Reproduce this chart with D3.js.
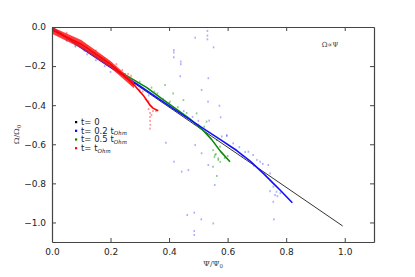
<!DOCTYPE html>
<html>
<head>
<meta charset="utf-8">
<script src="https://cdn.jsdelivr.net/npm/d3@7"></script>
<style>
  body { margin: 0; background: #fff; }
  svg { display: block; font-family: "DejaVu Sans", sans-serif; }
</style>
</head>
<body>
<div id="chart"></div>
<script>
// t = 0: linear relation
const blackLine = [[0, 0], [0.993, -1.018]];

// t = 0.2 t_Ohm
const blueLine = [[0, -0.004], [0.1, -0.106], [0.2, -0.206], [0.3, -0.302], [0.414, -0.418], [0.528, -0.53],
  [0.574, -0.575], [0.631, -0.632], [0.676, -0.685], [0.722, -0.749], [0.756, -0.8], [0.779, -0.834], [0.821, -0.899]];
const blueDots = [[0.531, -0.02], [0.531, -0.044], [0.531, -0.063], [0.489, -0.055], [0.552, -0.104], [0.416, -0.118],
  [0.416, -0.13], [0.416, -0.155], [0.44, -0.177], [0.44, -0.19], [0.438, -0.252], [0.534, -0.262], [0.511, -0.322],
  [0.533, -0.382], [0.572, -0.403], [0.576, -0.462], [0.537, -0.479], [0.597, -0.558], [0.389, -0.592], [0.489, -0.604],
  [0.511, -0.646], [0.417, -0.689], [0.443, -0.74], [0.466, -0.732], [0.534, -0.706], [0.556, -0.808], [0.462, -0.962],
  [0.486, -0.95], [0.51, -0.984], [0.551, -1.005], [0.486, -1.044], [0.486, -1.064], [0.758, -0.984],
  [0.597, -0.553], [0.619, -0.595], [0.671, -0.638], [0.687, -0.655], [0.739, -0.706], [0.745, -0.749], [0.711, -0.689],
  [0.64, -0.615], [0.66, -0.64], [0.70, -0.68], [0.72, -0.70], [0.58, -0.56], [0.65, -0.66], [0.69, -0.71],
  [0.756, -0.817], [0.767, -0.843], [0.762, -0.86], [0.756, -0.894], [0.745, -0.84], [0.77, -0.865], [0.78, -0.85],
  [0.45, -0.43], [0.35, -0.33], [0.25, -0.26], [0.15, -0.17], [0.05, -0.07], [0.2, -0.23], [0.3, -0.32], [0.12, -0.14],
  [0.48, -0.46], [0.5, -0.48], [0.38, -0.37], [0.08, -0.1], [0.18, -0.2], [0.27, -0.29], [0.33, -0.35], [0.4, -0.39]];

// t = 0.5 t_Ohm
const greenLine = [[0, -0.01], [0.1, -0.1], [0.2, -0.2], [0.324, -0.31], [0.369, -0.36], [0.471, -0.47], [0.517, -0.53],
  [0.545, -0.575], [0.575, -0.635], [0.608, -0.689]];
const greenDots = [[0.386, -0.297], [0.414, -0.34], [0.449, -0.374], [0.403, -0.382], [0.494, -0.442], [0.528, -0.484],
  [0.563, -0.578], [0.574, -0.612], [0.557, -0.655], [0.568, -0.68], [0.568, -0.672], [0.56, -0.65], [0.555, -0.665],
  [0.575, -0.69], [0.55, -0.63], [0.563, -0.762], [0.55, -0.715], [0.02, -0.04], [0.05, -0.065], [0.08, -0.095],
  [0.14, -0.13], [0.25, -0.24], [0.3, -0.28], [0.34, -0.31], [0.36, -0.34], [0.43, -0.41], [0.46, -0.44], [0.5, -0.5],
  [0.52, -0.51], [0.59, -0.67], [0.6, -0.66], [0.04, -0.05], [0.11, -0.12], [0.17, -0.16], [0.22, -0.22]];

// t = t_Ohm
const redLine = [[0, -0.015], [0.1, -0.088], [0.2, -0.19], [0.28, -0.295], [0.312, -0.35], [0.335, -0.4],
  [0.345, -0.415], [0.363, -0.428]];
const redBandTop = [[0, 0], [0.1, -0.067], [0.2, -0.174], [0.28, -0.28]];
const redBandBottom = [[0, -0.035], [0.1, -0.109], [0.2, -0.208], [0.28, -0.314]];
const redDots = [[0.05, -0.03], [0.12, -0.1], [0.15, -0.12], [0.18, -0.16], [0.22, -0.19], [0.24, -0.22], [0.26, -0.24],
  [0.29, -0.29], [0.31, -0.33], [0.32, -0.37], [0.33, -0.38], [0.335, -0.44], [0.335, -0.46], [0.335, -0.48],
  [0.336, -0.5], [0.335, -0.52], [0.33, -0.42], [0.345, -0.43], [0.34, -0.45], [0.355, -0.43], [0.3, -0.33], [0.27, -0.25]];

const xTicks = [0, 0.2, 0.4, 0.6, 0.8, 1.0];
const yTicks = [0, -0.2, -0.4, -0.6, -0.8, -1.0];

const legendItems = [
  { color: '#000', label: 't= 0', sub: '' },
  { color: '#0000ff', label: 't= 0.2 t', sub: 'Ohm' },
  { color: '#008000', label: 't= 0.5 t', sub: 'Ohm' },
  { color: '#ff0000', label: 't= t', sub: 'Ohm' },
];

const W = 415, H = 277;
const margin = { top: 27, right: 41, bottom: 35, left: 52 };

const svg = d3.select('#chart').append('svg')
  .attr('width', W)
  .attr('height', H);

const x = d3.scaleLinear().domain([0, 1.1]).range([margin.left, W - margin.right]);
const y = d3.scaleLinear().domain([-1.1, 0]).range([H - margin.bottom, margin.top]);

svg.append('clipPath').attr('id', 'plot')
  .append('rect')
  .attr('x', margin.left).attr('y', margin.top)
  .attr('width', W - margin.left - margin.right)
  .attr('height', H - margin.top - margin.bottom);

const g = svg.append('g').attr('clip-path', 'url(#plot)');
const line = d3.line().x(d => x(d[0])).y(d => y(d[1]));

function dots(data, color, op) {
  g.append('g').selectAll('rect')
    .data(data)
    .join('rect')
    .attr('x', d => x(d[0]) - 0.8)
    .attr('y', d => y(d[1]) - 1)
    .attr('width', 1.6)
    .attr('height', 2)
    .attr('fill', color)
    .attr('opacity', op);
}

// scatter behind the lines
dots(blueDots, '#4b4bff', 0.45);
dots(greenDots, '#1a9a1a', 0.5);
dots(redDots, '#ff3030', 0.5);

g.append('path').datum(blackLine).attr('d', line)
  .attr('fill', 'none').attr('stroke', '#333').attr('stroke-width', 1);

g.append('path').datum(greenLine).attr('d', line)
  .attr('fill', 'none').attr('stroke', '#0a8a0a').attr('stroke-width', 1.6)
  .attr('stroke-linejoin', 'round');

g.append('path').datum(blueLine).attr('d', line)
  .attr('fill', 'none').attr('stroke', '#1010ff').attr('stroke-width', 1.6)
  .attr('stroke-linejoin', 'round');

const band = d3.area()
  .x(d => x(d[0]))
  .y0((d, i) => y(redBandBottom[i][1]))
  .y1(d => y(d[1]));
g.append('path').datum(redBandTop).attr('d', band)
  .attr('fill', '#ff1a1a').attr('opacity', 0.85);

g.append('path').datum(redLine).attr('d', line)
  .attr('fill', 'none').attr('stroke', '#ff0000').attr('stroke-width', 1.6)
  .attr('stroke-linejoin', 'round');

// Axes (matplotlib style, ticks inward, all four sides)
const axisColor = '#444';
const tickLen = 4;
const axB = svg.append('g').attr('transform', `translate(0,${y(-1.1)})`)
  .call(d3.axisBottom(x).tickValues(xTicks).tickSizeInner(-tickLen).tickSizeOuter(0).tickPadding(7).tickFormat(d3.format('.1f')));
const axT = svg.append('g').attr('transform', `translate(0,${y(0)})`)
  .call(d3.axisTop(x).tickValues(xTicks).tickSizeInner(-tickLen).tickSizeOuter(0).tickFormat(''));
const axL = svg.append('g').attr('transform', `translate(${x(0)},0)`)
  .call(d3.axisLeft(y).tickValues(yTicks).tickSizeInner(-tickLen).tickSizeOuter(0).tickPadding(6)
    .tickFormat(d => d3.format('.1f')(d).replace('-', '\u2212')));
const axR = svg.append('g').attr('transform', `translate(${x(1.1)},0)`)
  .call(d3.axisRight(y).tickValues(yTicks).tickSizeInner(-tickLen).tickSizeOuter(0).tickFormat(''));

[axB, axT, axL, axR].forEach(a => {
  a.select('.domain').attr('stroke', axisColor).attr('stroke-width', 1.2);
  a.selectAll('.tick line').attr('stroke', axisColor);
  a.selectAll('.tick text').attr('fill', '#222').attr('font-size', '9px')
    .attr('font-family', '"DejaVu Sans", sans-serif');
});

// Axis labels
svg.append('text')
  .attr('transform', `translate(19,${(y(0) + y(-1.1)) / 2}) rotate(-90)`)
  .attr('text-anchor', 'middle')
  .attr('font-family', '"DejaVu Serif", serif')
  .attr('font-size', '8px')
  .attr('fill', '#444')
  .html('Ω/Ω<tspan font-size="5.5px" dy="2">0</tspan>');

svg.append('text')
  .attr('x', (x(0) + x(1.1)) / 2)
  .attr('y', 266)
  .attr('text-anchor', 'middle')
  .attr('font-family', '"DejaVu Serif", serif')
  .attr('font-size', '8px')
  .attr('fill', '#444')
  .html('Ψ/Ψ<tspan font-size="5.5px" dy="2">0</tspan>');

svg.append('text')
  .attr('x', 330)
  .attr('y', 47)
  .attr('text-anchor', 'middle')
  .attr('font-family', '"DejaVu Serif", serif')
  .attr('font-size', '7px')
  .attr('fill', '#444')
  .text('Ω∝Ψ');

// Legend
const legend = svg.append('g').attr('transform', 'translate(76,122)');
legendItems.forEach((d, i) => {
  const row = legend.append('g').attr('transform', `translate(0,${i * 8.7})`);
  row.append('rect').attr('x', -1).attr('y', -1).attr('width', 2.2).attr('height', 2.2).attr('fill', d.color);
  const t = row.append('text')
    .attr('x', 5).attr('y', 3)
    .attr('font-size', '8.5px')
    .attr('fill', '#222')
    .text(d.label);
  if (d.sub) {
    t.append('tspan').attr('font-size', '5.5px').attr('font-style', 'italic').attr('dy', 1.5)
      .attr('font-family', '"DejaVu Serif", serif').text(d.sub);
  }
});
</script>
</body>
</html>
